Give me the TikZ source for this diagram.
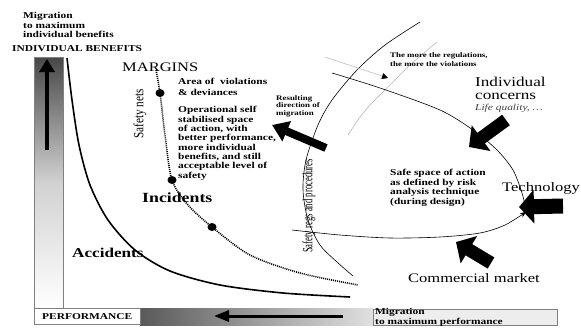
\documentclass[tikz,border=0pt]{standalone}
\usepackage{fontspec}
\setmainfont{Liberation Serif}[FakeStretch=1.27]
\newfontfamily\rotfont{Liberation Serif}[FakeStretch=0.62]
\newfontfamily\rotfontb{Liberation Serif}[FakeStretch=0.8]
\usetikzlibrary{arrows.meta,shapes.geometric}
\tikzset{
  txt/.style={inner sep=0pt, anchor=north west, align=left},
  bt/.style={txt, font=\bfseries\fontsize{9}{9.3}\selectfont},
  big/.style={txt, font=\fontsize{13}{13}\selectfont},
  blk/.style args={#1/#2/#3}{line width=#1, -{Triangle[length=#3,width=#2]}},
  thinline/.style={line width=0.6pt},
  dotnode/.style={fill=black, ellipse, inner sep=0pt, minimum width=9pt, minimum height=8pt}
}
\begin{document}
\begin{tikzpicture}[x=1pt,y=-1pt]
\useasboundingbox (0,0) rectangle (581,327);
% vertical bar
\shade[top color=black!72, bottom color=white, middle color=black!18] (34,57) rectangle (63,308);
\draw[gray, line width=0.6pt] (34,57) rectangle (63,308);
\coordinate (va0) at (47,150); \coordinate (va1) at (47,59);
\draw[blk=3.5pt/15pt/13pt] (va0) -- (va1);
% bottom bar
\shade[left color=black!65, right color=black!12] (140,308) rectangle (373,325);
\fill[black!7] (373,309) rectangle (557,325);
\draw[gray, line width=0.6pt] (373,309) rectangle (557,325);
\fill[white] (34,308) rectangle (140,324);
\draw[gray, line width=0.6pt] (34,308) rectangle (140,324);
\coordinate (ha0) at (343,316); \coordinate (ha1) at (214,316);
\draw[blk=3pt/11pt/15pt] (ha0) -- (ha1);
% accidents curve
\draw[line width=1.6pt] plot[smooth] coordinates {(67,58) (72,100) (79,145) (90,185) (108,220) (135,250) (170,271) (220,285) (283,293) (350,297)};
% dotted safety net curve
\draw[line width=1.6pt, dash pattern=on 1pt off 1pt] plot[smooth] coordinates {(156,70) (160,93) (165,135) (172,180) (188,205) (212,227) (250,255) (300,273) (358,285)};
\node[dotnode] (d1) at (160,93) {};
\node[dotnode] (d2) at (172,180) {};
\node[dotnode] (d3) at (212,227) {};
% safety regs arc
\draw[thinline] plot[smooth] coordinates {(420,22) (385,45) (357,70) (332,100) (318,125) (306,160) (303,190) (308,220) (320,245) (337,262) (353,276)};
% light arc
\draw[gray!55, thinline] plot[smooth] coordinates {(437,42) (410,65) (390,85) (370,105) (358,120) (348,135)};
\coordinate (la0) at (325,57); \coordinate (la1) at (388,78);
\draw[gray!55, line width=0.5pt, -{Triangle[length=6pt,width=6pt,color=black]}] (la0) -- (la1);
% safe space curves
\draw[thinline] plot[smooth] coordinates {(332,73) (380,88) (440,110) (473,130) (497,150) (513,170) (522,193) (526,210)};
\draw[thinline, -{Stealth[length=6pt,width=5pt]}] plot[smooth] coordinates {(292,230) (340,235) (390,238) (440,237) (480,233) (505,225) (526,212)};
% block arrows
\coordinate (r0) at (326,148); \coordinate (r1) at (272,125);
\draw[blk=8pt/21pt/16pt] (r0) -- (r1);
\coordinate (i0) at (506,120); \coordinate (i1) at (469,147);
\draw[blk=13pt/31pt/15pt] (i0) -- (i1);
\coordinate (t0) at (563,206); \coordinate (t1) at (519,207);
\draw[blk=15pt/33pt/15pt] (t0) -- (t1);
\coordinate (c0) at (491,263); \coordinate (c1) at (456,242);
\draw[blk=13pt/31pt/15pt] (c0) -- (c1);
% texts
\node[bt] (mig) at (23,12.5) {Migration\\to maximum\\individual benefits};
\node[bt] (ib) at (12,45) {INDIVIDUAL BENEFITS};
\node[big] (mar) at (122,62.5) {MARGINS};
\node[bt, font=\bfseries\fontsize{9}{10.5}\selectfont] (area) at (178,78.4) {Area of\ \ violations\\\& deviances};
\node[bt] (op) at (178,106.4) {Operational self\\stabilised space\\of action, with\\better performance,\\more individual\\benefits, and still\\acceptable level of\\safety};
\node[txt, font=\bfseries\fontsize{7}{7.6}\selectfont] (res) at (276,95) {Resulting\\direction of\\migration};
\node[txt, font=\bfseries\fontsize{7}{9}\selectfont] (reg) at (390,52) {The more the regulations,\\the more the violations};
\node[txt, font=\fontsize{13.5}{13}\selectfont] (ind) at (475,76.6) {Individual\\concerns};
\node[txt, font=\itshape\fontsize{9}{9}\selectfont, text=black!75] (life) at (475,104.4) {Life quality, \dots};
\node[big] (tech) at (502,181.8) {Technology};
\node[bt, font=\bfseries\fontsize{9}{9.4}\selectfont] (safe) at (390,169.4) {Safe space of action\\as defined by risk\\analysis technique\\(during design)};
\node[big] (com) at (408,272.8) {Commercial market};
\node[txt, font=\bfseries\fontsize{14}{14}\selectfont] (inc) at (142,192.4) {Incidents};
\node[txt, font=\bfseries\fontsize{13.5}{14}\selectfont] (acc) at (72,247.6) {Accidents};
\node[bt] (perf) at (42,313) {PERFORMANCE};
\node[bt, font=\bfseries\fontsize{9}{10}\selectfont] (migp) at (375,308.4) {Migration\\to maximum performance};
\node[inner sep=0pt, rotate=90, font=\rotfontb\fontsize{14}{14}\selectfont] (nets) at (140,114) {Safety nets};
\node[inner sep=0pt, rotate=90, font=\rotfont\fontsize{14}{14}\selectfont] (regs) at (309,206) {Safety regs and procedures};
\end{tikzpicture}
\end{document}
